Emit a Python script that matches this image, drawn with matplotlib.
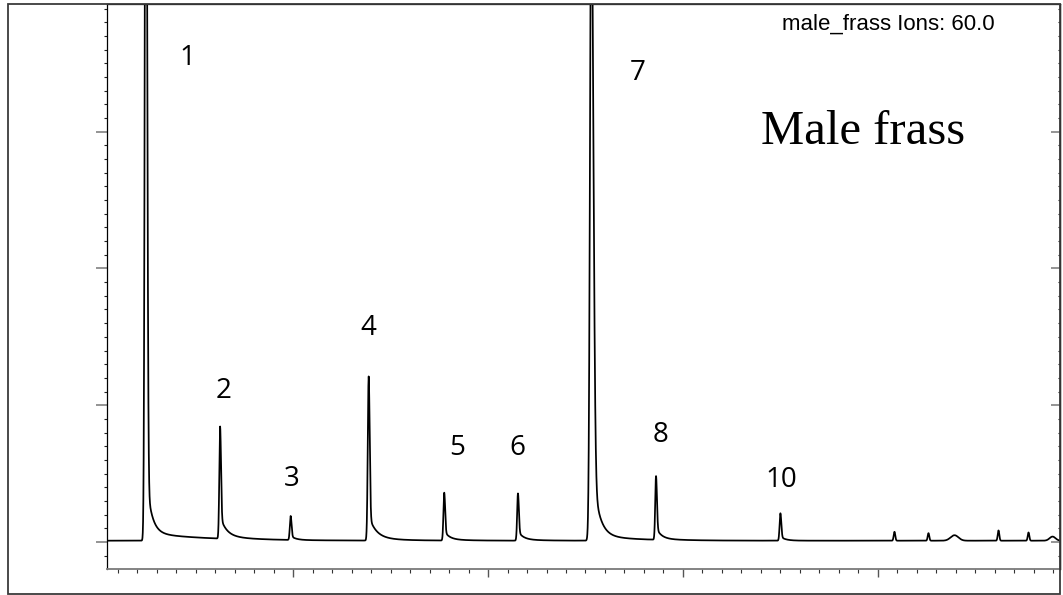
import numpy as np
import matplotlib
matplotlib.use("Agg")
import matplotlib.pyplot as plt
from matplotlib.ticker import MultipleLocator, NullFormatter
from matplotlib.patches import Rectangle

# Extracted ion chromatogram (m/z 60) of male frass
# Labelled peaks: retention time (min), apex abundance (relative units)
peak_names = ['1', '2', '3', '4', '5', '6', '7', '8', '10']
peak_rt = [4.2443, 4.6253, 4.9872, 5.3876, 5.7752, 6.1535, 6.5298, 6.8619, 7.5000]
peak_height = [7.0, 0.82, 0.175, 1.20, 0.35, 0.345, 4.8, 0.465, 0.20]
peak_sigma_front = [0.0051, 0.0041, 0.0041, 0.0046, 0.0041, 0.0041, 0.0067, 0.0041, 0.0041]
peak_sigma_back = [0.0062, 0.0046, 0.0046, 0.0051, 0.0046, 0.0046, 0.0103, 0.0046, 0.0046]
tail_amp = [0.45, 0.14, 0.03, 0.16, 0.06, 0.06, 0.60, 0.08, 0.03]
tail_tau = [0.026, 0.031, 0.026, 0.036, 0.026, 0.026, 0.031, 0.026, 0.026]
drift_amp = [0.06, 0.025, 0.0, 0.025, 0.01, 0.01, 0.045, 0.01, 0.0]
drift_tau = [0.28, 0.12, 0.10, 0.12, 0.10, 0.10, 0.18, 0.10, 0.10]

# Small unlabelled responses late in the run
minor_rt = [8.0853, 8.2598, 8.3933, 8.6191, 8.7731, 8.8963]
minor_height = [0.065, 0.055, 0.04, 0.075, 0.06, 0.03]
minor_sigma = [0.004, 0.004, 0.02, 0.004, 0.004, 0.015]

baseline_level = 0.01

# Label anchor positions (time, abundance)
label_pos = [(4.456, 3.538), (4.641, 1.106), (4.993, 0.460), (5.385, 1.564),
             (5.842, 0.687), (6.150, 0.687), (6.766, 3.428), (6.884, 0.782),
             (7.505, 0.453)]

x_min, x_max = 4.045, 8.932
y_min, y_max = -0.197, 3.933

t = np.arange(x_min, x_max, 0.0005)
signal = np.full_like(t, baseline_level)
for rt, h, sf, sb, ta, tt, da, dt_ in zip(peak_rt, peak_height, peak_sigma_front,
                                           peak_sigma_back, tail_amp, tail_tau,
                                           drift_amp, drift_tau):
    d = t - rt
    sig = np.where(d < 0, sf, sb)
    signal += h * np.exp(-0.5 * (d / sig) ** 2)
    dpos = np.clip(d, 0, None)
    ramp = 1 - np.exp(-(dpos / (1.5 * sb)) ** 2)
    signal += np.where(d > 0, ramp * (ta * np.exp(-dpos / tt) + da * np.exp(-dpos / dt_)), 0)
for rt, h, s in zip(minor_rt, minor_height, minor_sigma):
    signal += h * np.exp(-0.5 * ((t - rt) / s) ** 2)

W, H = 1063, 595
fig = plt.figure(figsize=(W / 100, H / 100), dpi=100)
fig.patch.set_facecolor('white')

left, right, bottom, top = 107, 1059.5, 569, 4
ax = fig.add_axes([left / W, (H - bottom) / H, (right - left) / W, (bottom - top) / H])
ax.plot(t, signal, color='black', lw=1.25, clip_on=True)
ax.set_xlim(x_min, x_max)
ax.set_ylim(y_min, y_max)

for s in ['left', 'right', 'top']:
    ax.spines[s].set_color('black')
    ax.spines[s].set_linewidth(0.9)
ax.spines['bottom'].set_color('#7a7a7a')
ax.spines['bottom'].set_linewidth(1.3)

ax.xaxis.set_major_locator(MultipleLocator(1.0))
ax.xaxis.set_minor_locator(MultipleLocator(0.1))
ax.yaxis.set_major_locator(MultipleLocator(1.0))
ax.yaxis.set_minor_locator(MultipleLocator(0.1))
ax.xaxis.set_major_formatter(NullFormatter())
ax.yaxis.set_major_formatter(NullFormatter())
ax.tick_params(axis='x', which='major', direction='out', length=5.5, width=1.0, color='#555555')
ax.tick_params(axis='x', which='minor', direction='out', length=3, width=0.8, color='#333333')
ax.tick_params(axis='y', which='major', direction='out', length=8, width=1.1, color='#777777')
ax.tick_params(axis='y', which='minor', direction='out', length=2.4, width=0.8, color='#222222')

ax2 = ax.twinx()
ax2.set_ylim(y_min, y_max)
ax2.yaxis.set_major_locator(MultipleLocator(1.0))
ax2.yaxis.set_minor_locator(MultipleLocator(0.1))
ax2.yaxis.set_major_formatter(NullFormatter())
ax2.tick_params(axis='y', which='major', direction='in', length=6.5, width=1.1, color='#777777')
ax2.tick_params(axis='y', which='minor', direction='in', length=1.8, width=0.8, color='#222222')
for s in ['left', 'top', 'bottom']:
    ax2.spines[s].set_visible(False)
ax2.spines['right'].set_color('black')
ax2.spines['right'].set_linewidth(0.9)

for name, (lx, ly) in zip(peak_names, label_pos):
    ax.text(lx, ly, name, fontsize=20, family='Open Sans', ha='center', va='center',
            color='black')

fig.text(863 / W, (H - 144) / H, 'Male frass', fontsize=35, family='Liberation Serif',
         ha='center', va='baseline', color='black')
fig.text(888 / W, (H - 30) / H, 'male_frass Ions: 60.0', fontsize=16,
         family='Liberation Sans', ha='center', va='baseline', color='black')

# Outer frame around the whole panel
frame = Rectangle((8 / W, 1 / H), (right - 8) / W, (H - 1 - 4) / H, transform=fig.transFigure,
                  fill=False, edgecolor='#3a3a3a', lw=1.3)
fig.add_artist(frame)

fig.savefig('out.png', dpi=100)
